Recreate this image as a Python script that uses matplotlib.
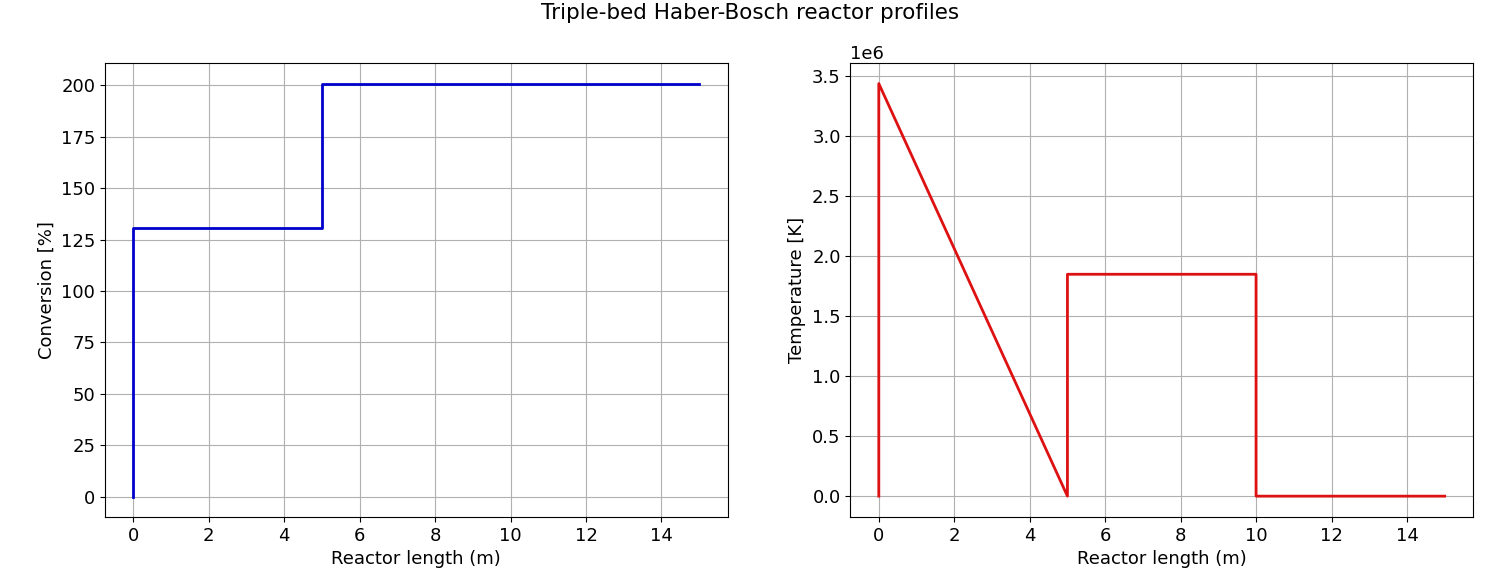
import matplotlib
matplotlib.use("Agg")
import matplotlib.pyplot as plt

# Bed profiles
length_conv = [0, 0, 5, 5, 15]
conversion = [0, 130.5, 130.5, 200.8, 200.8]

length_temp = [0, 0, 5, 5, 10, 10, 15]
temperature = [0, 3.44e6, 0, 1.85e6, 1.85e6, 0, 0]

plt.rcParams['font.size'] = 13

fig = plt.figure(figsize=(15, 5.85), dpi=100)
ax1 = fig.add_axes([0.07, 0.116, 0.415, 0.776])
ax2 = fig.add_axes([0.567, 0.116, 0.415, 0.776])

ax1.plot(length_conv, conversion, color='#0000cc', lw=2)
ax1.set_xlabel("Reactor length (m)")
ax1.set_ylabel("Conversion [%]")
ax1.set_xticks(range(0, 15, 2))
ax1.set_yticks(range(0, 201, 25))
ax1.grid(True)

ax2.plot(length_temp, temperature, color='#dd1111', lw=2)
ax2.set_xlabel("Reactor length (m)")
ax2.set_ylabel("Temperature [K]")
ax2.set_xticks(range(0, 15, 2))
ax2.set_ylim(-0.175e6, 3.61e6)
ax2.grid(True)

fig.suptitle("Triple-bed Haber-Bosch reactor profiles", fontsize=15.5, y=0.995)
fig.savefig("out.png")
